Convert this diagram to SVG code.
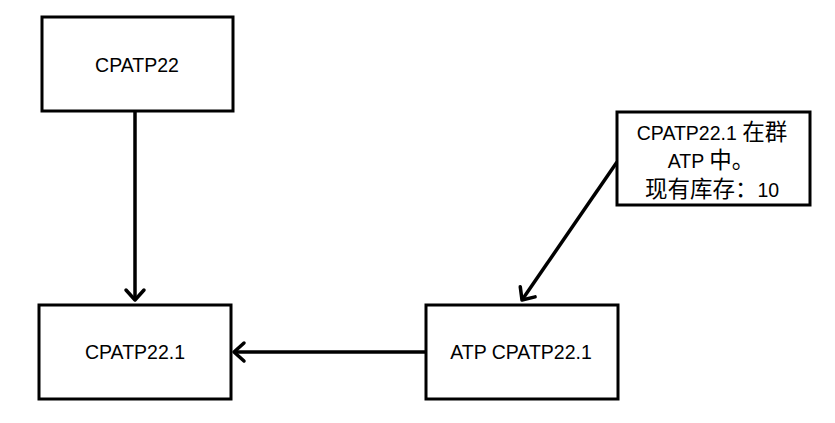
<svg xmlns="http://www.w3.org/2000/svg" width="835" height="423" viewBox="0 0 835 423">
<style>
.box{fill:#fff;stroke:#000;stroke-width:3}
.t{font-family:"Liberation Sans","Noto Sans CJK SC",Arial,sans-serif;font-size:19.5px;fill:#000;text-anchor:middle}
.cjk{font-family:"Noto Sans CJK SC",sans-serif;font-size:22.5px}
.c{fill:none;stroke:#000;stroke-width:3.5}
</style>
<defs>
<marker id="ah" markerUnits="userSpaceOnUse" markerWidth="30" markerHeight="30" viewBox="-15 -15 30 30" refX="0" refY="0" orient="auto">
<path d="M-10,-9 L0,0 L-10,9" fill="none" stroke="#000" stroke-width="3.5" stroke-linecap="round" stroke-linejoin="round"/>
</marker>
</defs>
<rect width="835" height="423" fill="#fff"/>
<g id="connectors">
<line class="c" x1="135" y1="112" x2="135" y2="300" marker-end="url(#ah)"/>
<line class="c" x1="425" y1="352" x2="234" y2="352" marker-end="url(#ah)"/>
<line class="c" x1="617" y1="162" x2="522" y2="300" marker-end="url(#ah)"/>
</g>
<g id="n1">
<rect class="box" x="42" y="17" width="191" height="94"/>
<text class="t" x="137" y="72">CPATP22</text>
</g>
<g id="n2">
<rect class="box" x="39" y="305" width="192" height="94"/>
<text class="t" x="135" y="359">CPATP22.1</text>
</g>
<g id="n3">
<rect class="box" x="426" y="305" width="192" height="94"/>
<text class="t" x="521" y="359">ATP CPATP22.1</text>
</g>
<g id="n4">
<rect class="box" x="617" y="112" width="193" height="93"/>
<text class="t" x="712" y="140">CPATP22.1 <tspan class="cjk">在群</tspan></text>
<text class="t" x="711" y="168">ATP <tspan class="cjk">中。</tspan></text>
<text class="t" x="712" y="197"><tspan class="cjk">现有库存：</tspan>10</text>
</g>
</svg>
